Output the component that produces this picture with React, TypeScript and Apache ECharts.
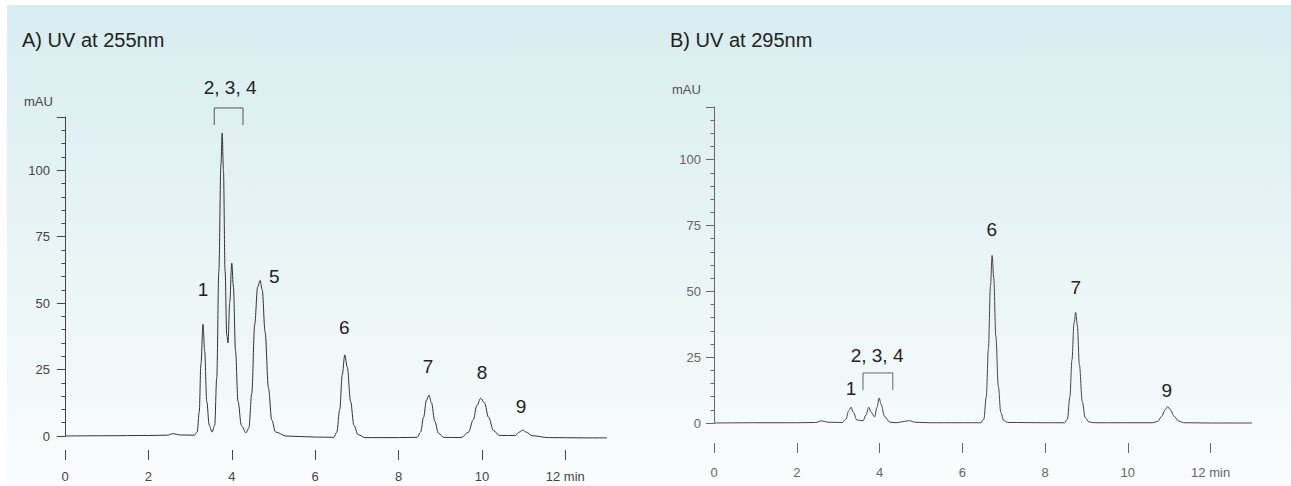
import React, { useEffect, useRef } from "react";
import * as echarts from "echarts";

// Chromatogram A (UV 255 nm): [time (min), absorbance (mAU)]
const traceA: [number, number][] = [
  [0, 0], [1, 0.1], [2, 0.2], [2.45, 0.3], [2.6, 0.9], [2.75, 0.4], [3.1, 0.3],
  [3.17, 1.5], [3.22, 9], [3.26, 27], [3.31, 42], [3.35, 32], [3.4, 13], [3.46, 4], [3.53, 1.5],
  [3.59, 4], [3.64, 22], [3.69, 62], [3.74, 102], [3.77, 114], [3.8, 100], [3.84, 62],
  [3.88, 38], [3.91, 35], [3.95, 50], [4.0, 65], [4.04, 56], [4.09, 32], [4.15, 13],
  [4.23, 4], [4.34, 1.2], [4.41, 3], [4.48, 16], [4.55, 42], [4.62, 56], [4.68, 58.5],
  [4.73, 55], [4.8, 39], [4.88, 18], [4.96, 6], [5.05, 1.5], [5.3, 0], [6.0, -0.4],
  [6.45, -0.5], [6.52, 1.5], [6.59, 10], [6.65, 23], [6.71, 30.5], [6.77, 26], [6.85, 13],
  [6.93, 4], [7.03, 0.5], [7.2, -0.6], [8.0, -0.6], [8.45, -0.5], [8.53, 1.5], [8.6, 7],
  [8.67, 13.5], [8.73, 15.4], [8.79, 12.5], [8.87, 5.5], [8.96, 1], [9.08, -0.5],
  [9.5, -0.6], [9.68, 1.5], [9.79, 6], [9.88, 11.5], [9.97, 14.2], [10.06, 12.5],
  [10.16, 7], [10.28, 2], [10.42, 0.2], [10.8, 0.2], [10.9, 1.5], [10.98, 2.2],
  [11.06, 1.5], [11.2, 0.1], [11.6, -0.6], [12.5, -0.7], [13, -0.7],
];

// Chromatogram B (UV 295 nm)
const traceB: [number, number][] = [
  [0, 0], [1, 0.1], [2, 0.1], [2.45, 0.2], [2.6, 0.8], [2.75, 0.3], [3.1, 0.2],
  [3.19, 1.5], [3.25, 4.5], [3.31, 6], [3.37, 4], [3.45, 1.2], [3.6, 0.8], [3.67, 3],
  [3.74, 6], [3.8, 4], [3.88, 2.3], [3.94, 6], [3.99, 9.5], [4.04, 7], [4.12, 2.5],
  [4.25, 0.3], [4.4, 0.1], [4.6, 0.6], [4.72, 0.9], [4.85, 0.3], [5.2, 0.1], [6.0, 0.1],
  [6.45, 0.1], [6.52, 1.5], [6.58, 10], [6.63, 28], [6.68, 52], [6.72, 63.6], [6.76, 55],
  [6.81, 33], [6.87, 14], [6.93, 4], [7.0, 1], [7.1, 0.2], [8.0, 0.1], [8.47, 0.1],
  [8.54, 1.5], [8.6, 10], [8.65, 24], [8.7, 38], [8.74, 42], [8.78, 37], [8.83, 22],
  [8.9, 8], [8.97, 2], [9.06, 0.4], [9.2, 0.1], [10.6, 0.1], [10.72, 0.6], [10.82, 2.6],
  [10.9, 5], [10.96, 6.2], [11.03, 5], [11.12, 2.5], [11.22, 0.8], [11.35, 0.1], [12, 0],
  [13, 0],
];

// Peak labels: [time, mAU, text]
const labelsA: [number, number, string][] = [
  [3.31, 55, "1"], [3.96, 131, "2, 3, 4"], [5.02, 60, "5"], [6.7, 41, "6"],
  [8.71, 26, "7"], [10.0, 24, "8"], [10.94, 11, "9"],
];
const labelsB: [number, number, string][] = [
  [3.31, 13, "1"], [3.94, 25.5, "2, 3, 4"], [6.71, 73.5, "6"], [8.74, 51.5, "7"], [10.94, 12.5, "9"],
];

// Brackets grouping peaks 2, 3, 4
const bracketA: [number, number][] = [[3.58, 117], [3.58, 123.4], [4.27, 123.4], [4.27, 117]];
const bracketB: [number, number][] = [[3.6, 12.5], [3.6, 19], [4.32, 19], [4.32, 12.5]];

const X_MAX = 13; // end of run (min)
const TICK_MAX = 12; // last labelled tick (min)
const Y_MAX = 120; // top of the mAU axis
const titles = ["A) UV at 255nm", "B) UV at 295nm"];
const yUnit = "mAU";

const FONT = "Liberation Sans, Arial, sans-serif";

function dataX(gridIndex: number) {
  return {
    type: "value",
    gridIndex,
    min: 0,
    max: X_MAX,
    show: false,
    axisLine: { show: false, onZero: false },
    axisTick: { show: false },
    axisLabel: { show: false },
    splitLine: { show: false },
  };
}

function tickX(gridIndex: number, offset: number, margin: number, color: string) {
  return {
    type: "value",
    gridIndex,
    min: 0,
    max: TICK_MAX,
    interval: 2,
    offset,
    axisLine: { show: false, onZero: false },
    splitLine: { show: false },
    axisTick: { show: true, length: 10, lineStyle: { color, width: 1 } },
    axisLabel: {
      margin,
      fontSize: 13,
      fontFamily: FONT,
      color,
      formatter: (v: number) => (v === TICK_MAX ? `${v} min` : String(v)),
    },
  };
}

function makeY(gridIndex: number, margin: number, color: string) {
  return {
    type: "value",
    gridIndex,
    min: 0,
    max: Y_MAX,
    interval: 25,
    axisLine: { show: true, onZero: false, lineStyle: { color, width: 1 } },
    splitLine: { show: false },
    axisTick: { show: true, length: 8, lineStyle: { color, width: 1 } },
    minorTick: { show: true, splitNumber: 5, length: 3.5, lineStyle: { color, width: 1 } },
    axisLabel: {
      margin,
      fontSize: 13,
      fontFamily: FONT,
      color,
      formatter: (v: number) => (v > 100 ? "" : String(v)),
    },
  };
}

function hiddenY(gridIndex: number) {
  return {
    type: "value",
    gridIndex,
    min: 0,
    max: Y_MAX,
    show: false,
    axisLine: { show: false, onZero: false },
    axisTick: { show: false },
    axisLabel: { show: false },
    splitLine: { show: false },
  };
}

export default function App() {
  const ref = useRef<HTMLDivElement>(null);
  useEffect(() => {
    if (!ref.current) return;
    const chart = echarts.init(ref.current, null, { renderer: "svg" });
    const gA = { left: 65, top: 117, width: 542, height: 319 };
    const gB = { left: 714, top: 107, width: 538, height: 316 };
    const traceSeries = (
      xi: number,
      data: [number, number][],
      labels: [number, number, string][],
      color: string,
      plotHeight: number
    ) => ({
      type: "line",
      xAxisIndex: xi,
      yAxisIndex: xi,
      data,
      showSymbol: false,
      symbol: "none",
      smooth: 0.35,
      smoothMonotone: "x",
      clip: false,
      silent: true,
      lineStyle: { color, width: 1 },
      markPoint: {
        silent: true,
        symbol: "circle",
        symbolSize: 0,
        itemStyle: { color: "transparent" },
        label: {
          show: true,
          position: "inside",
          formatter: (p: any) => p.name,
          fontSize: 19,
          fontFamily: FONT,
          color: "#222",
        },
        // labels above the top of the axis are anchored at the axis top and lifted
        data: labels.map(([t, y, text]) => {
          const yIn = Math.min(y, Y_MAX);
          const lift = ((y - yIn) * plotHeight) / Y_MAX;
          return {
            name: text,
            coord: [t, yIn],
            label: lift > 0 ? { offset: [0, -lift] } : undefined,
          };
        }),
      },
    });
    const bracketSeries = (xi: number, data: [number, number][], color: string) => ({
      type: "line",
      xAxisIndex: xi,
      yAxisIndex: xi,
      data,
      showSymbol: false,
      symbol: "none",
      clip: false,
      silent: true,
      lineStyle: { color, width: 1 },
    });
    chart.setOption({
      animation: false,
      backgroundColor: "#ffffff",
      graphic: [
        {
          type: "rect",
          z: -10,
          shape: { x: 7, y: 5, width: 1284, height: 481 },
          style: {
            fill: new echarts.graphic.LinearGradient(0, 0, 0, 1, [
              { offset: 0, color: "#d8edf0" },
              { offset: 0.5, color: "#e8f4f5" },
              { offset: 1, color: "#fafcfd" },
            ]),
          },
          silent: true,
        },
        {
          type: "text",
          x: 22,
          y: 40,
          style: { text: titles[0], font: `20px ${FONT}`, fill: "#222", verticalAlign: "middle" },
        },
        {
          type: "text",
          x: 670,
          y: 40,
          style: { text: titles[1], font: `20px ${FONT}`, fill: "#222", verticalAlign: "middle" },
        },
        {
          type: "text",
          x: 24,
          y: 101,
          style: { text: yUnit, font: `13px ${FONT}`, fill: "#444", verticalAlign: "middle" },
        },
        {
          type: "text",
          x: 672,
          y: 89,
          style: { text: yUnit, font: `13px ${FONT}`, fill: "#555", verticalAlign: "middle" },
        },
      ],
      grid: [
        gA,
        gB,
        { left: gA.left, top: gA.top, height: gA.height, width: (gA.width * TICK_MAX) / X_MAX },
        { left: gB.left, top: gB.top, height: gB.height, width: (gB.width * TICK_MAX) / X_MAX },
      ],
      xAxis: [dataX(0), dataX(1), tickX(2, 14, 20, "#444"), tickX(3, 20, 23, "#666")],
      yAxis: [makeY(0, 15, "#444"), makeY(1, 13, "#666"), hiddenY(2), hiddenY(3)],
      series: [
        traceSeries(0, traceA, labelsA, "#333", gA.height),
        traceSeries(1, traceB, labelsB, "#444", gB.height),
        bracketSeries(0, bracketA, "#555"),
        bracketSeries(1, bracketB, "#666"),
      ],
    });
    return () => chart.dispose();
  }, []);
  return (
    <div
      ref={ref}
      style={{ position: "absolute", left: 0, top: 0, width: 1291, height: 486 }}
    />
  );
}
